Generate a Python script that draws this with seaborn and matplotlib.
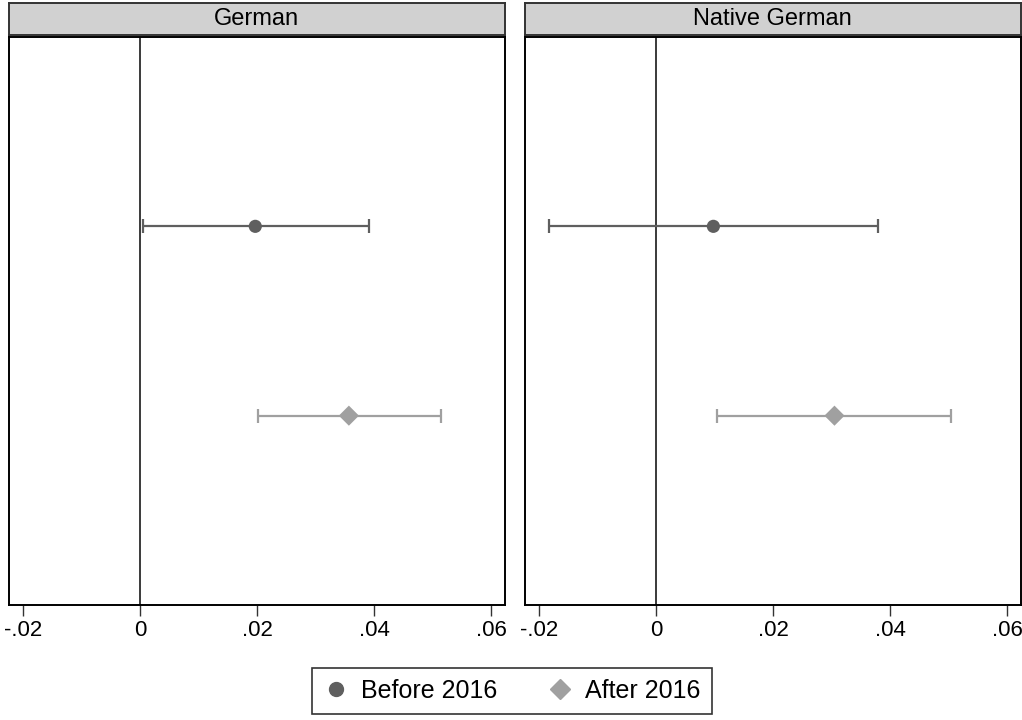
import matplotlib
matplotlib.use("Agg")
import matplotlib.pyplot as plt
import seaborn as sns
import pandas as pd
from matplotlib.lines import Line2D

# data
panels = ["German", "Native German"]
periods = ["Before 2016", "After 2016"]
coef_german = [0.0197, 0.0357]
lo_german = [0.0005, 0.0201]
hi_german = [0.0391, 0.0515]
coef_native = [0.0098, 0.0305]
lo_native = [-0.0183, 0.0104]
hi_native = [0.0379, 0.0505]
xticks = [-0.02, 0, 0.02, 0.04, 0.06]
xticklabels = ["-.02", "0", ".02", ".04", ".06"]

rows = []
for p, c, l, h in [("German", coef_german, lo_german, hi_german),
                   ("Native German", coef_native, lo_native, hi_native)]:
    for i, per in enumerate(periods):
        rows.append(dict(panel=p, period=per, pos=i + 1, coef=c[i], lo=l[i], hi=h[i]))
df = pd.DataFrame(rows)

sns.set_style("white")
plt.rcParams['font.family'] = ['Liberation Sans', 'DejaVu Sans']
plt.rcParams['text.color'] = 'black'
plt.rcParams['xtick.color'] = 'black'

colors = {"Before 2016": "#5f5f5f", "After 2016": "#a0a0a0"}
markers = {"Before 2016": "o", "After 2016": "D"}
sizes = {"Before 2016": 90, "After 2016": 105}

fig = plt.figure(figsize=(10.22, 7.2), dpi=100)
lefts = [9 / 1022, 525 / 1022]
w = 495.5 / 1022
for k, p in enumerate(panels):
    ax = fig.add_axes([lefts[k], 1 - 605 / 720, w, 568 / 720])
    sub = df[df.panel == p]
    ax.axvline(0, color="#3a3a3a", lw=1.4, zorder=1)
    for _, r in sub.iterrows():
        ax.errorbar(r.coef, r.pos, xerr=[[r.coef - r.lo], [r.hi - r.coef]],
                    fmt="none", ecolor=colors[r.period], elinewidth=1.6,
                    capsize=5, capthick=1.6, zorder=2)
    sns.scatterplot(data=sub, x="coef", y="pos", hue="period", style="period",
                    size="period", sizes=sizes,
                    palette=colors, markers=markers, edgecolor="none",
                    ax=ax, legend=False, zorder=3)
    ax.set_xlim(-0.0224, 0.0623)
    ax.set_ylim(3, 0)
    ax.set_xticks(xticks)
    ax.set_xticklabels(xticklabels, fontsize=16)
    ax.set_yticks([])
    ax.set_xlabel("")
    ax.set_ylabel("")
    ax.tick_params(axis="x", bottom=True, length=8, width=1, color="#333333",
                   labelcolor="black", pad=3)
    for s in ax.spines.values():
        s.set_color("black")
        s.set_linewidth(1.4)
    # strip title
    sax = fig.add_axes([lefts[k], 1 - 35 / 720, w, 32 / 720])
    sax.set_facecolor("#d1d1d1")
    sax.set_xticks([])
    sax.set_yticks([])
    for s in sax.spines.values():
        s.set_color("#333333")
        s.set_linewidth(1.4)
    sax.text(0.5, 0.5, p, ha="center", va="center", fontsize=17, color="black",
             transform=sax.transAxes)

handles = [Line2D([], [], marker=markers[per], color=colors[per], linestyle="none",
                  markersize=10) for per in periods]
leg = fig.legend(handles, periods, loc="center", bbox_to_anchor=(512 / 1022, 1 - 691 / 720),
                 ncol=2, frameon=True, fancybox=False, fontsize=18, handletextpad=0.5,
                 columnspacing=2.0, borderpad=0.45, handlelength=1.0, borderaxespad=0)
leg.get_frame().set_edgecolor("black")
leg.get_frame().set_linewidth(1.2)
for t in leg.get_texts():
    t.set_color("black")

fig.savefig("out.png", dpi=100)
